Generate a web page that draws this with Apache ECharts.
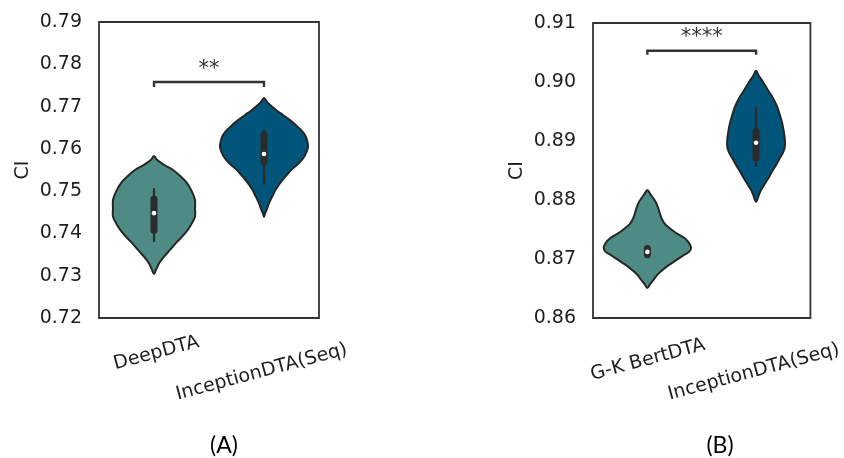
<!DOCTYPE html>
<html>
<head>
<meta charset="utf-8">
<script src="https://cdn.jsdelivr.net/npm/echarts@6/dist/echarts.min.js"></script>
<style>
html,body{margin:0;padding:0;background:#fff;}
#chart{width:844px;height:458px;}
</style>
</head>
<body>
<div id="chart"></div>
<script>
// ---------- DATA ----------
const categoriesA = ['DeepDTA', 'InceptionDTA(Seq)'];
const categoriesB = ['G-K BertDTA', 'InceptionDTA(Seq)'];
const yTicksA = [0.72, 0.73, 0.74, 0.75, 0.76, 0.77, 0.78, 0.79];
const yTicksB = [0.86, 0.87, 0.88, 0.89, 0.90, 0.91];

// violin outlines: CI values and half-widths (fraction of category band)
const deepdtaValues = [0.7583,0.7574,0.7562,0.7550,0.7534,0.7519,0.7499,0.7479,0.7459,0.7440,0.7420,0.7400,0.7380,0.7361,0.7345,0.7329,0.7314,0.7304];
const deepdtaWidths = [0,0.027,0.091,0.173,0.245,0.300,0.345,0.373,0.373,0.373,0.336,0.282,0.209,0.145,0.091,0.045,0.018,0];
const inceptionAValues = [0.7720,0.7711,0.7704,0.7692,0.7680,0.7668,0.7656,0.7645,0.7633,0.7621,0.7604,0.7585,0.7569,0.7552,0.7536,0.7522,0.7505,0.7491,0.7474,0.7458,0.7446,0.7439];
const inceptionAWidths = [0,0.027,0.055,0.109,0.173,0.236,0.291,0.336,0.373,0.391,0.400,0.373,0.327,0.255,0.200,0.155,0.109,0.082,0.050,0.027,0.009,0];
const bertdtaValues = [0.8817,0.8810,0.8803,0.8795,0.8786,0.8778,0.8770,0.8761,0.8753,0.8744,0.8736,0.8727,0.8719,0.8712,0.8707,0.8698,0.8690,0.8681,0.8673,0.8664,0.8658,0.8651];
const bertdtaWidths = [0,0.027,0.055,0.082,0.100,0.114,0.128,0.155,0.200,0.265,0.338,0.384,0.402,0.384,0.338,0.265,0.200,0.137,0.091,0.055,0.027,0];
const inceptionBValues = [0.9019,0.9010,0.9000,0.8986,0.8973,0.8959,0.8944,0.8929,0.8915,0.8902,0.8890,0.8880,0.8871,0.8859,0.8848,0.8836,0.8825,0.8817,0.8809,0.8797];
const inceptionBWidths = [0,0.027,0.064,0.110,0.155,0.192,0.219,0.242,0.256,0.265,0.265,0.247,0.219,0.183,0.146,0.110,0.073,0.046,0.027,0];

// inner box stats: [whisker low, q1, median, q3, whisker high]
const deepdtaBox = [0.7380, 0.7403, 0.7448, 0.7486, 0.7507];
const inceptionABox = [0.7515, 0.7564, 0.7588, 0.7638, 0.7645];
const bertdtaBox = [0.8704, 0.8704, 0.8712, 0.8721, 0.8721];
const inceptionBBox = [0.8856, 0.8868, 0.8897, 0.8919, 0.8958];

// significance brackets: [bar level, tick end, label level]
const bracketA = [0.7758, 0.7746, 0.7800];
const bracketB = [0.9053, 0.9046, 0.9083];
const starsA = '**';
const starsB = '****';
const panelLabels = ['(A)', '(B)'];

// ---------- RENDER ----------
const colTeal = '#4f8b85';
const colBlue = '#02557a';
const edge = '#262626';
const FONT = 'DejaVu Sans';
const TXT = '#1e1e1e';

const profilesA = [[deepdtaValues, deepdtaWidths], [inceptionAValues, inceptionAWidths]];
const profilesB = [[bertdtaValues, bertdtaWidths], [inceptionBValues, inceptionBWidths]];
const boxesA = [deepdtaBox, inceptionABox];
const boxesB = [bertdtaBox, inceptionBBox];
const fills = [colTeal, colBlue];

function violinRenderer(profiles, boxes) {
  return function (params, api) {
    const i = api.value(0);
    const vals = profiles[i][0], wids = profiles[i][1];
    const band = api.size([1, 0])[0];
    const cx = api.coord([i, vals[0]])[0];
    const right = [], left = [];
    for (let k = 0; k < vals.length; k++) {
      const y = api.coord([i, vals[k]])[1];
      right.push([cx + wids[k] * band, y]);
      left.push([cx - wids[k] * band, y]);
    }
    const pts = right.concat(left.reverse().slice(1, -1));
    const b = boxes[i];
    const yLo = api.coord([i, b[0]])[1], yQ1 = api.coord([i, b[1]])[1], yMed = api.coord([i, b[2]])[1], yQ3 = api.coord([i, b[3]])[1], yHi = api.coord([i, b[4]])[1];
    const bw = 7;
    return {
      type: 'group',
      children: [
        { type: 'polygon', shape: { points: pts, smooth: 0.35 }, style: { fill: fills[i], stroke: edge, lineWidth: 2 } },
        { type: 'line', shape: { x1: cx, y1: yHi, x2: cx, y2: yLo }, style: { stroke: '#2b2b2b', lineWidth: 2.2 } },
        { type: 'rect', shape: { x: cx - bw / 2, y: yQ3 - 1.5, width: bw, height: Math.max(yQ1 - yQ3 + 3, 10), r: 3.5 }, style: { fill: '#2b2b2b' } },
        { type: 'circle', shape: { cx: cx, cy: yMed, r: 2.3 }, style: { fill: '#ffffff' } }
      ]
    };
  };
}

function bracketRenderer(br, stars) {
  return function (params, api) {
    const p0 = api.coord([0, br[0]]), p1 = api.coord([1, br[0]]);
    const yT = api.coord([0, br[1]])[1];
    const yS = api.coord([0, br[2]])[1] + 5; // asterisks sit high in the em box
    return {
      type: 'group',
      children: [
        { type: 'polyline', shape: { points: [[p0[0], yT], [p0[0], p0[1]], [p1[0], p1[1]], [p1[0], yT]] }, style: { stroke: '#333', lineWidth: 2.4, fill: null } },
        { type: 'text', x: (p0[0] + p1[0]) / 2, y: yS, style: { text: stars, textAlign: 'center', textVerticalAlign: 'middle', fontSize: 21, fontFamily: FONT, fill: '#333' } }
      ]
    };
  };
}

function xAxisCfg(gridIndex, cats, padFirst, padSecond) {
  return {
    type: 'category', gridIndex: gridIndex, data: cats, boundaryGap: true,
    axisLine: { show: false }, axisTick: { show: false }, splitLine: { show: false },
    axisLabel: {
      interval: 0, rotate: 15, align: 'center', verticalAlign: 'top', margin: 26,
      formatter: function (v, idx) { return idx === 0 ? '{a|' + v + '}' : '{b|' + v + '}'; },
      rich: {
        a: { fontSize: 19, fontFamily: FONT, color: TXT, padding: padFirst },
        b: { fontSize: 19, fontFamily: FONT, color: TXT, padding: padSecond }
      }
    }
  };
}

function yAxisCfg(gridIndex, ticks) {
  return {
    type: 'value', gridIndex: gridIndex,
    min: ticks[0], max: ticks[ticks.length - 1], interval: 0.01,
    name: 'CI', nameLocation: 'middle', nameGap: 66,
    nameTextStyle: { fontSize: 19, fontFamily: FONT, color: TXT },
    axisLine: { show: false }, axisTick: { show: false }, splitLine: { show: false },
    axisLabel: { margin: 17, fontSize: 19, fontFamily: FONT, color: TXT, formatter: function (v) { return v.toFixed(2); } }
  };
}

const chart = echarts.init(document.getElementById('chart'), null, { renderer: 'canvas' });
chart.setOption({
  animation: false,
  backgroundColor: '#ffffff',
  grid: [
    { left: 99, top: 22, width: 220, height: 296, show: true, borderColor: '#333', borderWidth: 1.8, backgroundColor: 'transparent' },
    { left: 593, top: 23, width: 219, height: 295, show: true, borderColor: '#333', borderWidth: 1.8, backgroundColor: 'transparent' }
  ],
  xAxis: [
    xAxisCfg(0, categoriesA, [0, 0, 0, 0], [17, 19, 0, 0]),
    xAxisCfg(1, categoriesB, [6, 7, 0, 0], [17, 19, 0, 0])
  ],
  yAxis: [yAxisCfg(0, yTicksA), yAxisCfg(1, yTicksB)],
  series: [
    { type: 'custom', xAxisIndex: 0, yAxisIndex: 0, renderItem: violinRenderer(profilesA, boxesA), data: categoriesA.map((c, i) => [i, boxesA[i][2]]), clip: false },
    { type: 'custom', xAxisIndex: 1, yAxisIndex: 1, renderItem: violinRenderer(profilesB, boxesB), data: categoriesB.map((c, i) => [i, boxesB[i][2]]), clip: false },
    { type: 'custom', xAxisIndex: 0, yAxisIndex: 0, renderItem: bracketRenderer(bracketA, starsA), data: [[0, bracketA[0]]], clip: false },
    { type: 'custom', xAxisIndex: 1, yAxisIndex: 1, renderItem: bracketRenderer(bracketB, starsB), data: [[0, bracketB[0]]], clip: false }
  ],
  graphic: [
    { type: 'text', x: 224, y: 446, style: { text: panelLabels[0], textAlign: 'center', textVerticalAlign: 'middle', fontSize: 23, fontFamily: 'Lato', fill: '#000' } },
    { type: 'text', x: 720, y: 446, style: { text: panelLabels[1], textAlign: 'center', textVerticalAlign: 'middle', fontSize: 23, fontFamily: 'Lato', fill: '#000' } }
  ]
});
</script>
</body>
</html>
